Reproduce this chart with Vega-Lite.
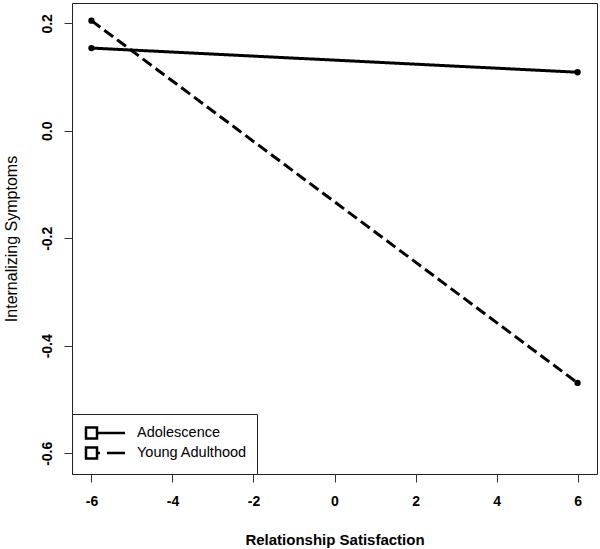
{
  "$schema": "https://vega.github.io/schema/vega-lite/v6.json",
  "width": 525,
  "height": 471,
  "autosize": {"type": "none"},
  "padding": {"left": 72, "top": 3, "right": 3, "bottom": 75},
  "background": "white",
  "config": {
    "font": "Liberation Sans",
    "view": {"stroke": "#222222", "strokeWidth": 1},
    "axis": {
      "grid": false,
      "domain": false,
      "tickColor": "#333333",
      "tickSize": 8,
      "labelFont": "Liberation Sans",
      "labelFontWeight": "bold",
      "labelFontSize": 14,
      "labelColor": "#000000",
      "titleFont": "Liberation Sans",
      "titleFontWeight": "bold",
      "titleFontSize": 15,
      "titleColor": "#000000"
    }
  },
  "data": {
    "values": [
      {"satisfaction": -6, "symptoms": 0.154, "period": "Adolescence"},
      {"satisfaction": 6, "symptoms": 0.109, "period": "Adolescence"},
      {"satisfaction": -6, "symptoms": 0.205, "period": "Young Adulthood"},
      {"satisfaction": 6, "symptoms": -0.469, "period": "Young Adulthood"}
    ]
  },
  "encoding": {
    "x": {
      "field": "satisfaction",
      "type": "quantitative",
      "scale": {"domain": [-6.48, 6.48], "nice": false, "zero": false},
      "axis": {
        "title": "Relationship Satisfaction",
        "values": [-6, -4, -2, 0, 2, 4, 6],
        "labelExpr": "'' + datum.value",
        "labelPadding": 12,
        "titlePadding": 24,
        "labelFlush": false
      }
    },
    "y": {
      "field": "symptoms",
      "type": "quantitative",
      "scale": {"domain": [-0.6385, 0.2378], "nice": false, "zero": false},
      "axis": {
        "title": "Internalizing Symptoms",
        "titleFontWeight": "normal",
        "titleFontSize": 16,
        "values": [-0.6, -0.4, -0.2, 0, 0.2],
        "labelExpr": "replace(format(datum.value, '.1f'), '\u2212', '-')",
        "labelAngle": -90,
        "labelAlign": "center",
        "labelBaseline": "alphabetic",
        "labelPadding": 13,
        "titlePadding": 21,
        "labelFlush": false
      }
    }
  },
  "layer": [
    {
      "mark": {"type": "line", "color": "#000000", "strokeWidth": 3},
      "encoding": {
        "detail": {"field": "period"},
        "strokeDash": {
          "field": "period",
          "type": "nominal",
          "scale": {"domain": ["Adolescence", "Young Adulthood"], "range": [[1, 0], [11, 5]]},
          "legend": null
        }
      }
    },
    {
      "transform": [{"filter": "datum.satisfaction == -6"}],
      "mark": {"type": "line", "color": "#000000", "strokeWidth": 3},
      "encoding": {
        "detail": {"field": "period"},
        "strokeDash": {
          "field": "period",
          "type": "nominal",
          "scale": {"domain": ["Adolescence", "Young Adulthood"], "range": [[1, 0], [18, 7, 47, 10]]},
          "legend": {
            "title": null,
            "orient": "bottom-left",
            "offset": 0,
            "strokeColor": "#222222",
            "fillColor": "#ffffff",
            "padding": 10,
            "symbolType": "M4.387,0H0.774V-0.71H-0.645V0.71H0.774V0",
            "symbolSize": 240,
            "symbolStrokeWidth": 2.5,
            "symbolStrokeColor": "#000000",
            "symbolFillColor": "transparent",
            "labelFont": "Liberation Sans",
            "labelFontSize": 14.5,
            "labelColor": "#000000",
            "labelOffset": 37,
            "rowPadding": -6
          }
        }
      }
    },
    {
      "mark": {"type": "circle", "color": "#000000", "size": 40, "opacity": 1},
      "encoding": {"detail": {"field": "period"}}
    }
  ],
  "resolve": {"scale": {"strokeDash": "independent"}, "legend": {"strokeDash": "independent"}}
}
